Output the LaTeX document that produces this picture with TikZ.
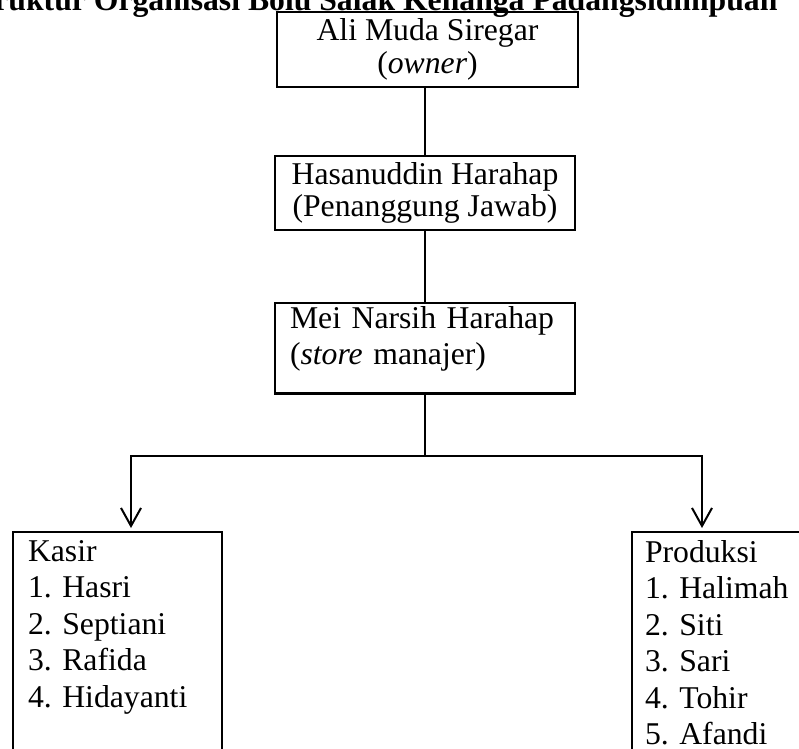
\documentclass[tikz,border=0pt]{standalone}
\usepackage{fontspec}
\setmainfont{Liberation Serif}
\usetikzlibrary{arrows.meta, calc}
\frenchspacing

\begin{document}
\begin{tikzpicture}[x=1pt, y=-1pt,
    every node/.style={font=\fontsize{31.7}{36.5}\selectfont},
    box/.style={draw, line width=2.6pt, outer sep=0pt},
    link/.style={line width=2pt},
    down/.style={link, -{Straight Barb[length=18pt, width=20pt, line width=2pt]}, shorten >=4pt}]
  % Frame
  \path[use as bounding box, clip] (0,0) rectangle (799,748);

  % Title
  \node[anchor=base west, inner sep=0pt, font=\fontsize{31.7}{36.5}\selectfont\bfseries] (title) at (-34,10.5)
    {Struktur Organisasi Bolu Salak Kenanga Padangsidimpuan};

  % --- PIMPINAN ---
  \node[box, minimum width=301pt, minimum height=75pt, align=center, font=\fontsize{31.7}{33}\selectfont] (owner) at (427.5,49.5)
    {Ali Muda Siregar\\(\textit{owner})};
  \node[box, minimum width=300pt, minimum height=74pt, align=center, font=\fontsize{31.7}{32}\selectfont] (pj) at (425,193)
    {Hasanuddin Harahap\\(Penanggung Jawab)};
  \node[box, anchor=north west, text width=270pt, inner xsep=15pt, inner ysep=3pt, text depth=62.3pt, align=left, font=\fontsize{31.7}{36}\selectfont] (manajer) at (275,303)
    {Mei Narsih Harahap\\(\textit{store} manajer)};

  % --- BAGIAN ---
  \node[box, anchor=north west, text width=179pt, inner xsep=15pt, inner ysep=8pt, text depth=240pt, align=left] (kasir) at (13,532)
    {Kasir\\1. Hasri\\2. Septiani\\3. Rafida\\4. Hidayanti};
  \node[box, anchor=north west, text width=160pt, inner xsep=13pt, inner ysep=8pt, text depth=240pt, align=left] (produksi) at (632,532)
    {Produksi\\1. Halimah\\2. Siti\\3. Sari\\4. Tohir\\5. Afandi};

  % Connectors
  \coordinate (cabang) at ($(manajer.south)+(0,63)$);
  \draw[link] (pj.north |- owner.south) -- (pj.north);
  \draw[link] (pj.south) -- (manajer.north);
  \draw[link] (manajer.south) -- (cabang);
  \draw[down] (cabang) -| ([xshift=13.5pt]kasir.north);
  \draw[down] (cabang) -| ([xshift=-23pt]produksi.north);
\end{tikzpicture}
\end{document}
